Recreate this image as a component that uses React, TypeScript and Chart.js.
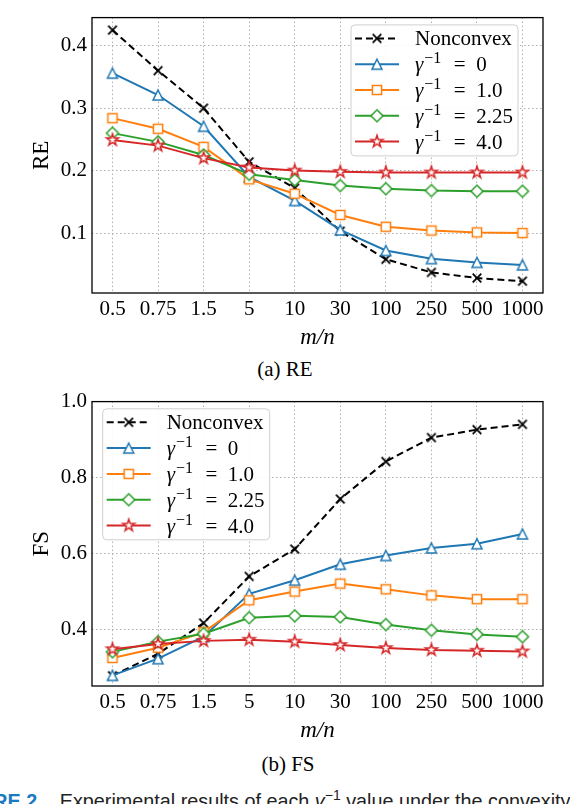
import React, { useEffect, useRef } from 'react';
import { Chart, registerables } from 'chart.js';

Chart.register(...registerables);

// ---------- data ----------
const categories = ['0.5', '0.75', '1.5', '5', '10', '30', '100', '250', '500', '1000'];
const seriesLabels = ['Nonconvex', 'γ⁻¹ = 0', 'γ⁻¹ = 1.0', 'γ⁻¹ = 2.25', 'γ⁻¹ = 4.0'];

const reNonconvex = [0.425, 0.36, 0.3, 0.214, 0.172, 0.103, 0.058, 0.037, 0.028, 0.023];
const reGamma0 = [0.356, 0.321, 0.271, 0.19, 0.152, 0.105, 0.072, 0.059, 0.053, 0.049];
const reGamma1 = [0.284, 0.267, 0.238, 0.186, 0.163, 0.129, 0.11, 0.104, 0.101, 0.1];
const reGamma225 = [0.26, 0.246, 0.225, 0.194, 0.185, 0.176, 0.171, 0.168, 0.167, 0.167];
const reGamma4 = [0.249, 0.24, 0.22, 0.205, 0.2, 0.198, 0.197, 0.197, 0.197, 0.197];

const fsNonconvex = [0.277, 0.335, 0.416, 0.539, 0.611, 0.743, 0.842, 0.905, 0.926, 0.94];
const fsGamma0 = [0.278, 0.322, 0.38, 0.493, 0.529, 0.571, 0.594, 0.614, 0.625, 0.651];
const fsGamma1 = [0.324, 0.351, 0.392, 0.476, 0.499, 0.52, 0.505, 0.489, 0.479, 0.479];
const fsGamma225 = [0.34, 0.367, 0.388, 0.43, 0.435, 0.432, 0.412, 0.397, 0.386, 0.38];
const fsGamma4 = [0.347, 0.361, 0.369, 0.372, 0.367, 0.358, 0.35, 0.345, 0.343, 0.341];

const reTicks = [0.1, 0.2, 0.3, 0.4];
const fsTicks = [0.4, 0.6, 0.8, 1.0];

// ---------- styles ----------
const SERIF = '"Liberation Serif", "Times New Roman", serif';
const SANS = '"Liberation Sans", Arial, sans-serif';
const seriesColors = ['#000000', '#1f77b4', '#ff7f0e', '#2ca02c', '#d62728'];
const markerKinds = ['x', 'tri', 'square', 'diamond', 'star'];

function makeMarker(kind: string, color: string): HTMLCanvasElement {
  const size = 18;
  const c = document.createElement('canvas');
  c.width = size;
  c.height = size;
  const ctx = c.getContext('2d')!;
  ctx.translate(size / 2, size / 2);
  ctx.lineWidth = 1.5;
  ctx.strokeStyle = color;
  ctx.fillStyle = '#ffffff';
  ctx.lineJoin = 'miter';
  ctx.beginPath();
  if (kind === 'x') {
    const r = 4.3;
    ctx.lineWidth = 1.8;
    ctx.moveTo(-r, -r);
    ctx.lineTo(r, r);
    ctx.moveTo(r, -r);
    ctx.lineTo(-r, r);
    ctx.stroke();
    return c;
  }
  if (kind === 'tri') {
    const r = 5;
    ctx.moveTo(0, -r);
    ctx.lineTo(r, r);
    ctx.lineTo(-r, r);
    ctx.closePath();
  } else if (kind === 'square') {
    const h = 4.6;
    ctx.rect(-h, -h, 2 * h, 2 * h);
  } else if (kind === 'diamond') {
    const r = 6;
    ctx.moveTo(0, -r);
    ctx.lineTo(r, 0);
    ctx.lineTo(0, r);
    ctx.lineTo(-r, 0);
    ctx.closePath();
  } else if (kind === 'star') {
    const ro = 6.2;
    const ri = ro * 0.381966;
    for (let k = 0; k < 10; k++) {
      const rr = k % 2 === 0 ? ro : ri;
      const a = -Math.PI / 2 + (k * Math.PI) / 5;
      const px = rr * Math.cos(a);
      const py = rr * Math.sin(a);
      if (k === 0) ctx.moveTo(px, py);
      else ctx.lineTo(px, py);
    }
    ctx.closePath();
  }
  ctx.fill();
  ctx.stroke();
  return c;
}

function drawRichLabel(ctx: CanvasRenderingContext2D, text: string, x: number, y: number) {
  ctx.textAlign = 'left';
  ctx.textBaseline = 'alphabetic';
  ctx.fillStyle = '#000000';
  const base = y + 7;
  const idx = text.indexOf('⁻¹');
  if (idx < 0) {
    ctx.font = `21px ${SERIF}`;
    ctx.fillText(text, x, base);
    return;
  }
  const pre = text.slice(0, idx);
  const post = text.slice(idx + 2);
  ctx.font = `italic 21px ${SERIF}`;
  ctx.fillText(pre, x, base);
  let cx = x + ctx.measureText(pre).width + 1;
  ctx.font = `16px ${SERIF}`;
  ctx.fillText('−1', cx, base - 8);
  cx += ctx.measureText('−1').width + 2;
  ctx.font = `21px ${SERIF}`;
  ctx.fillText(post.replace(' = ', '  =  '), cx, base);
}

const framePlugin = {
  id: 'mplFrame',
  afterDatasetsDraw(chart: any) {
    const { ctx, chartArea: a } = chart;
    ctx.save();
    ctx.strokeStyle = '#000000';
    ctx.lineWidth = 1.3;
    ctx.strokeRect(a.left, a.top, a.right - a.left, a.bottom - a.top);
    ctx.restore();
  },
};

const legendPlugin = {
  id: 'mplLegend',
  afterDraw(chart: any, _args: any, opts: any) {
    const { ctx, chartArea: a } = chart;
    const w = 167;
    const h = 131;
    const left = opts.corner === 'right' ? a.right - opts.dx - w : a.left + opts.dx;
    const top = a.top + opts.dy;
    ctx.save();
    ctx.beginPath();
    if ((ctx as any).roundRect) (ctx as any).roundRect(left, top, w, h, 4);
    else ctx.rect(left, top, w, h);
    ctx.fillStyle = 'rgba(255,255,255,0.88)';
    ctx.fill();
    ctx.strokeStyle = '#d0d0d0';
    ctx.lineWidth = 1;
    ctx.stroke();
    const datasets = chart.data.datasets;
    datasets.forEach((ds: any, i: number) => {
      const y = top + 13.5 + i * 25.8;
      ctx.beginPath();
      ctx.strokeStyle = ds.borderColor;
      ctx.lineWidth = ds.borderWidth;
      ctx.setLineDash(ds.borderDash || []);
      ctx.moveTo(left + 4, y);
      ctx.lineTo(left + 48, y);
      ctx.stroke();
      ctx.setLineDash([]);
      const img = ds.pointStyle as HTMLCanvasElement;
      ctx.drawImage(img, left + 26 - img.width / 2, y - img.height / 2);
      drawRichLabel(ctx, ds.label, left + 64, y);
    });
    ctx.restore();
  },
};

function buildDatasets(series: number[][]) {
  return series.map((vals, i) => ({
    label: seriesLabels[i],
    data: vals.map((v, j) => ({ x: j, y: v })),
    borderColor: seriesColors[i],
    backgroundColor: seriesColors[i],
    borderWidth: 2,
    borderDash: i === 0 ? [7, 4] : [],
    pointStyle: makeMarker(markerKinds[i], seriesColors[i]),
    pointRadius: 6,
    pointHoverRadius: 6,
    fill: false,
    tension: 0,
    order: 5 - i,
  }));
}

interface PlotProps {
  series: number[][];
  yLabel: string;
  yMin: number;
  yMax: number;
  yTicks: number[];
  height: number;
  padTop: number;
  legendCorner: 'left' | 'right';
  legendDx: number;
  legendDy: number;
}

function Plot(props: PlotProps) {
  const ref = useRef<HTMLCanvasElement | null>(null);
  useEffect(() => {
    if (!ref.current) return;
    const gridColor = '#b0b0b0';
    const chart = new Chart(ref.current, {
      type: 'line',
      data: { datasets: buildDatasets(props.series) as any },
      options: {
        animation: false,
        responsive: false,
        devicePixelRatio: 1,
        layout: { padding: { left: 0, right: 27, top: props.padTop, bottom: 0 } },
        plugins: {
          legend: { display: false },
          tooltip: { enabled: false },
          mplLegend: { corner: props.legendCorner, dx: props.legendDx, dy: props.legendDy },
        } as any,
        scales: {
          x: {
            type: 'linear',
            min: -0.45,
            max: categories.length - 1 + 0.45,
            afterBuildTicks: (scale: any) => {
              scale.ticks = categories.map((_, i) => ({ value: i }));
            },
            afterFit: (scale: any) => {
              scale.height = 59;
            },
            ticks: {
              autoSkip: false,
              maxRotation: 0,
              padding: 4,
              color: '#000000',
              font: { family: SERIF, size: 21 },
              callback: (v: any) => categories[Number(v)] ?? '',
            },
            grid: { color: gridColor, lineWidth: 1, drawTicks: false },
            border: { display: false, dash: [1.5, 2.5] },
            title: {
              display: true,
              text: 'm/n',
              color: '#000000',
              padding: { top: 0, bottom: 0 },
              font: { family: SERIF, size: 23, style: 'italic' },
            },
          },
          y: {
            type: 'linear',
            min: props.yMin,
            max: props.yMax,
            afterBuildTicks: (scale: any) => {
              scale.ticks = props.yTicks.map((v) => ({ value: v }));
            },
            afterFit: (scale: any) => {
              scale.width = 92;
            },
            ticks: {
              padding: 5,
              color: '#000000',
              font: { family: SERIF, size: 21 },
              callback: (v: any) => Number(v).toFixed(1),
            },
            grid: { color: gridColor, lineWidth: 1, drawTicks: false },
            border: { display: false, dash: [1.5, 2.5] },
            title: {
              display: true,
              text: props.yLabel,
              color: '#000000',
              padding: { top: 28, bottom: 0 },
              font: { family: SERIF, size: 23 },
            },
          },
        },
      },
      plugins: [framePlugin, legendPlugin],
    });
    return () => chart.destroy();
  }, []);
  return <canvas ref={ref} width={570} height={props.height} style={{ width: 570, height: props.height, display: 'block' }} />;
}

export default function App() {
  return (
    <div
      style={{
        position: 'fixed',
        left: 0,
        top: 0,
        width: 570,
        height: 804,
        overflow: 'hidden',
        background: '#ffffff',
      }}
    >
      <div style={{ position: 'absolute', left: 0, top: 0 }}>
        <Plot
          series={[reNonconvex, reGamma0, reGamma1, reGamma225, reGamma4]}
          yLabel="RE"
          yMin={0.004}
          yMax={0.445}
          yTicks={reTicks}
          height={352}
          padTop={1}
          legendCorner="right"
          legendDx={25}
          legendDy={7.3}
        />
      </div>
      <div
        style={{
          position: 'absolute',
          left: 0,
          width: 570,
          top: 359,
          textAlign: 'center',
          font: `21px ${SERIF}`,
          lineHeight: '21px',
          color: '#000',
        }}
      >
        (a) RE
      </div>
      <div style={{ position: 'absolute', left: 0, top: 384 }}>
        <Plot
          series={[fsNonconvex, fsGamma0, fsGamma1, fsGamma225, fsGamma4]}
          yLabel="FS"
          yMin={0.25}
          yMax={1.0}
          yTicks={fsTicks}
          height={361}
          padTop={9.5}
          legendCorner="left"
          legendDx={10.7}
          legendDy={7.2}
        />
      </div>
      <div
        style={{
          position: 'absolute',
          left: 3,
          width: 570,
          top: 754,
          textAlign: 'center',
          font: `21px ${SERIF}`,
          lineHeight: '21px',
          color: '#000',
        }}
      >
        (b) FS
      </div>
      <div
        style={{
          position: 'absolute',
          left: -54,
          top: 786,
          whiteSpace: 'nowrap',
          font: `19.8px ${SANS}`,
          lineHeight: '19.8px',
          color: '#222',
        }}
      >
        <span style={{ color: '#1a7ac0', fontWeight: 'bold', marginRight: 17 }}>FIGURE 2.</span>
        Experimental results of each <i>γ</i>
        <sup style={{ fontSize: 14 }}>−1</sup> value under the convexity condition.
      </div>
    </div>
  );
}
